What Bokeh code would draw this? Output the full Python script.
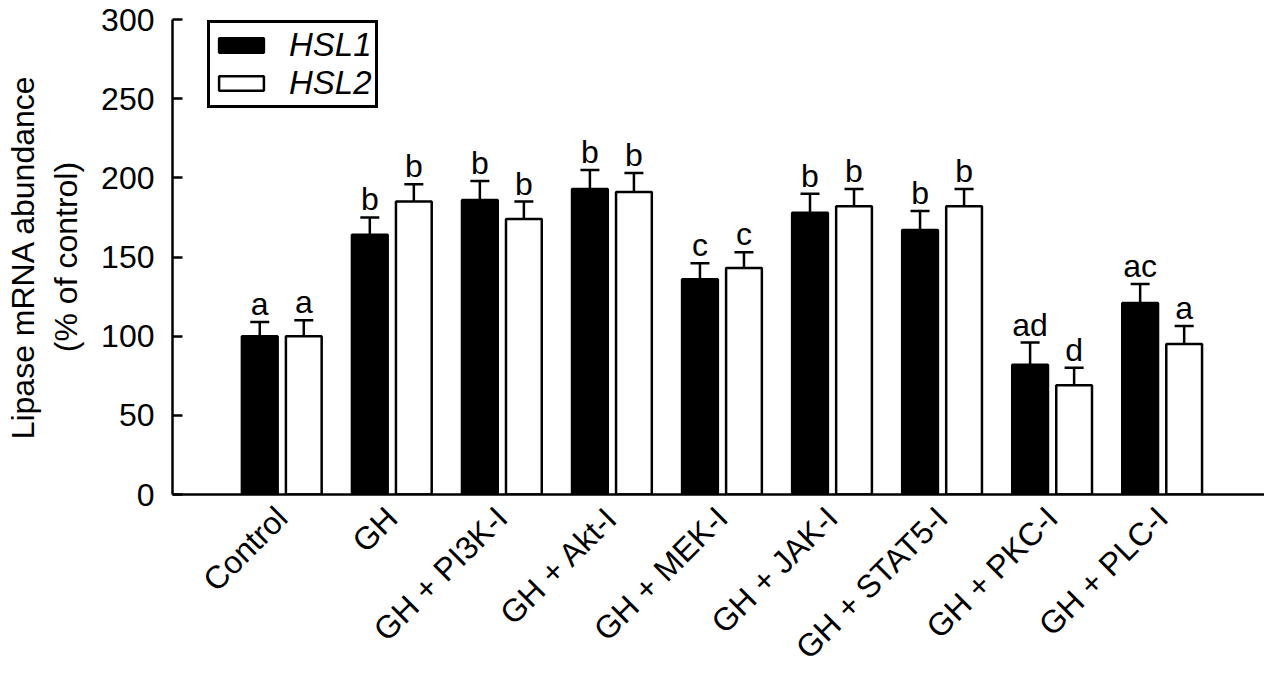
import math
from bokeh.plotting import figure
from bokeh.models import (ColumnDataSource, Range1d, FixedTicker, Whisker, TeeHead, Legend, LegendItem)
from bokeh.core.properties import value
from bokeh.embed import file_html
from bokeh.resources import INLINE

groups = ["Control", "GH", "GH + PI3K-I", "GH + Akt-I", "GH + MEK-I",
          "GH + JAK-I", "GH + STAT5-I", "GH + PKC-I", "GH + PLC-I"]
hsl1 = [100, 164, 186, 193, 136, 178, 167, 82, 121]
hsl1_err = [9, 11, 12, 12, 10, 12, 12, 14, 12]
hsl2 = [100, 185, 174, 191, 143, 182, 182, 69, 95]
hsl2_err = [10, 11, 11, 12, 10, 11, 11, 11, 11.5]
letters1 = ["a", "b", "b", "b", "c", "b", "b", "ad", "ac"]
letters2 = ["a", "b", "b", "b", "c", "b", "b", "d", "a"]
y_ticks = [0, 50, 100, 150, 200, 250, 300]

FONT = "Liberation Sans"
OFF = 0.2
BW = 0.325

idx = list(range(len(groups)))
src1 = ColumnDataSource(dict(
    x=[i - OFF for i in idx], top=hsl1,
    upper=[v + e for v, e in zip(hsl1, hsl1_err)], lab=letters1))
src2 = ColumnDataSource(dict(
    x=[i + OFF for i in idx], top=hsl2,
    upper=[v + e for v, e in zip(hsl2, hsl2_err)], lab=letters2))

p = figure(width=1264, height=681, output_backend="svg", toolbar_location=None,
           x_range=Range1d(-0.993, 8.93), y_range=Range1d(0, 300),
           min_border_left=172, min_border_right=0, min_border_top=19,
           min_border_bottom=182)
p.outline_line_color = None
p.xgrid.visible = False
p.ygrid.visible = False

r1 = p.vbar(x="x", top="top", width=BW, bottom=0, source=src1,
            fill_color="black", line_color="black", line_width=2.5)
r2 = p.vbar(x="x", top="top", width=BW, bottom=0, source=src2,
            fill_color="white", line_color="black", line_width=2.5)

for s in (src1, src2):
    w = Whisker(source=s, base="x", upper="upper", lower="top",
                upper_head=TeeHead(size=19, line_width=2.5, line_color="black"),
                lower_head=None, line_width=2.5, line_color="black")
    p.add_layout(w)
    p.text(x="x", y="upper", text="lab", source=s, text_align="center",
           text_baseline="alphabetic", y_offset=-18,
           text_font=value(FONT), text_font_size="32px", text_color="black")

# axes
yax = p.yaxis[0]
yax.ticker = FixedTicker(ticks=y_ticks)
yax.minor_tick_line_color = None
yax.major_tick_in = 10
yax.major_tick_out = 0
yax.major_tick_line_width = 2.5
yax.axis_line_width = 2.5
yax.major_label_standoff = 18
yax.major_label_text_font = FONT
yax.major_label_text_font_size = "32px"
yax.major_label_text_color = "black"
yax.axis_label = "Lipase mRNA abundance\n(% of control)"
yax.axis_label_text_font = FONT
yax.axis_label_text_font_size = "32px"
yax.axis_label_text_font_style = "normal"
yax.axis_label_text_color = "black"
yax.axis_label_standoff = 14

xax = p.xaxis[0]
xax.ticker = FixedTicker(ticks=idx)
xax.major_label_overrides = {i: g for i, g in zip(idx, groups)}
xax.major_label_orientation = math.pi / 4
xax.major_tick_line_color = None
xax.minor_tick_line_color = None
xax.axis_line_width = 2.5
xax.major_label_standoff = 12
xax.major_label_text_font = FONT
xax.major_label_text_font_size = "32px"
xax.major_label_text_color = "black"

legend = Legend(items=[LegendItem(label="HSL1", renderers=[r1]),
                       LegendItem(label="HSL2", renderers=[r2])],
                location=(35, 386))
legend.label_text_font = FONT
legend.label_text_font_size = "33px"
legend.label_text_font_style = "italic"
legend.label_text_color = "black"
legend.border_line_color = "black"
legend.border_line_alpha = 1
legend.border_line_width = 3
legend.glyph_width = 56
legend.glyph_height = 18
legend.label_height = 18
legend.label_standoff = 20
legend.padding = 3
legend.spacing = 0
legend.margin = 0
legend.background_fill_alpha = 1
p.add_layout(legend, "center")

open("out.html", "w").write(file_html(p, INLINE))
